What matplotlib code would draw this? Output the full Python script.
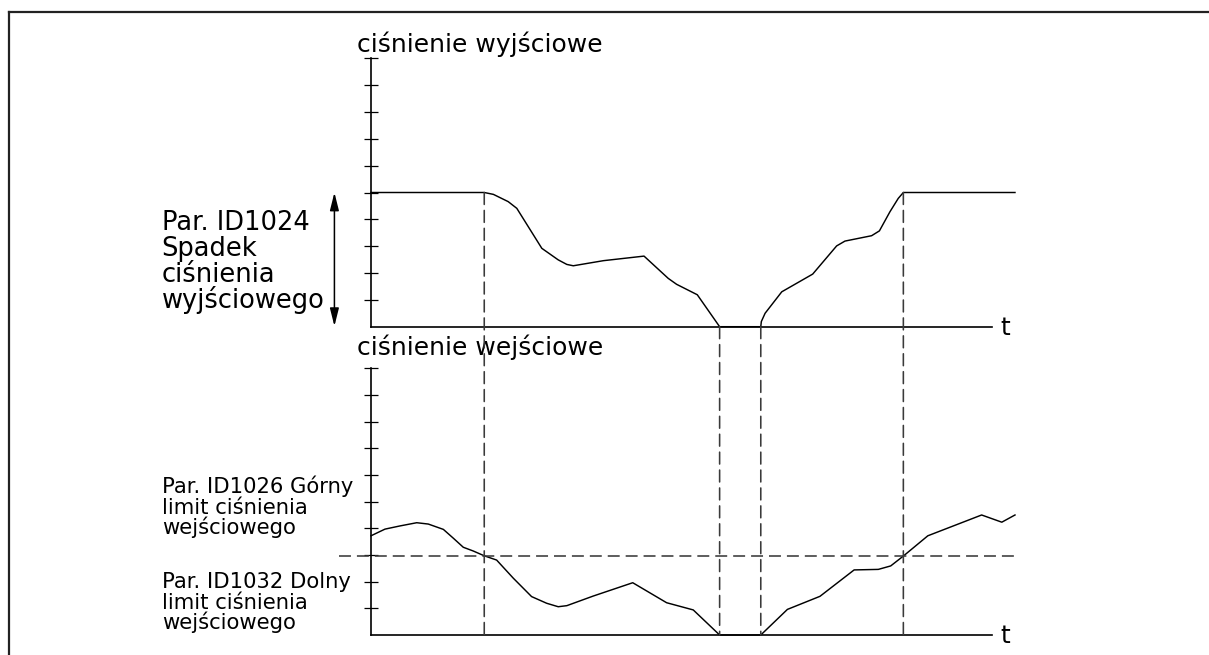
import matplotlib
matplotlib.use('Agg')
import matplotlib.pyplot as plt
from matplotlib.patches import ConnectionPatch
from matplotlib.lines import Line2D
from matplotlib.transforms import offset_copy

plt.rcParams['lines.scale_dashes'] = False
plt.rcParams['font.family'] = ['DejaVu Sans']

# --- data (time in arbitrary units, pressure in tick units) ---
out_t = [0, 4.21, 4.55, 5.10, 5.42, 6.35, 6.96, 7.28, 7.52, 8.64, 10.15, 11.05,
         11.36, 12.13, 12.96, 14.49, 14.51, 14.65, 15.27, 16.42, 17.31, 17.62,
         18.61, 18.90, 19.29, 19.60, 19.79, 23.94]
out_p = [5.0, 5.0, 4.93, 4.66, 4.41, 2.92, 2.49, 2.32, 2.27, 2.46, 2.63, 1.80,
         1.58, 1.19, 0, 0, 0.19, 0.50, 1.30, 1.96, 3.01, 3.19,
         3.39, 3.57, 4.28, 4.78, 5.0, 5.0]

in_t = [0, 0.52, 1.08, 1.70, 2.13, 2.69, 3.06, 3.43, 3.80, 4.21, 4.67, 5.29,
        5.97, 6.53, 6.96, 7.28, 8.26, 9.73, 10.99, 11.98, 12.96, 14.49, 15.48,
        16.69, 17.96, 18.86, 19.32, 19.79, 20.70, 22.70, 23.45, 23.94]
in_p = [3.72, 3.97, 4.09, 4.21, 4.16, 3.96, 3.63, 3.29, 3.15, 2.97, 2.81, 2.13,
        1.44, 1.19, 1.06, 1.10, 1.46, 1.96, 1.21, 0.94, 0, 0, 0.96,
        1.45, 2.44, 2.46, 2.59, 2.96, 3.72, 4.50, 4.23, 4.50]

set_level = 5.0          # flat output pressure level
limit_level = 2.95       # input pressure limit
event_t = [4.21, 12.96, 14.49, 19.79]
event_from = [set_level, 0, 0, set_level]

t_axis_end = 23.07
limit_span = (-1.19, 23.94)

title_out = 'ciśnienie wyjściowe'
title_in = 'ciśnienie wejściowe'
label_drop = ['Par. ID1024', 'Spadek', 'ciśnienia', 'wyjściowego']
label_high = ['Par. ID1026 Górny', 'limit ciśnienia', 'wejściowego']
label_low = ['Par. ID1032 Dolny', 'limit ciśnienia', 'wejściowego']

# --- layout ---
W, H = 1209, 655
PX = 26.9     # pixels per time unit
XMAX = 24.6

fig = plt.figure(figsize=(W / 100, H / 100), dpi=100)
fig.patch.set_facecolor('white')


def make_axes(bottom_px, top_px):
    ax = fig.add_axes([371 / W, 1 - bottom_px / H, XMAX * PX / W,
                       (bottom_px - top_px) / H])
    ax.set_xlim(0, XMAX)
    ax.set_ylim(0, 10)
    ax.patch.set_visible(False)
    ax.spines['top'].set_visible(False)
    ax.spines['right'].set_visible(False)
    for s in ('left', 'bottom'):
        ax.spines[s].set_linewidth(1.2)
        ax.spines[s].set_color('black')
    ax.spines['left'].set_bounds(0, 10)
    ax.spines['bottom'].set_bounds(0, t_axis_end)
    ax.set_xticks([])
    ax.set_yticks(range(1, 11))
    ax.set_yticklabels([])
    ax.tick_params(axis='y', direction='inout', length=10, width=0.9)
    ax.text(23.38, -0.31, 't', fontsize=18, va='baseline', ha='left')
    return ax


def text_block(ax, x, y, lines, size, step_pt):
    # one text per line, baselines step_pt apart
    for i, line in enumerate(lines):
        tr = offset_copy(ax.transData, fig=fig, y=-i * step_pt, units='points')
        ax.text(x, y, line, fontsize=size, va='baseline', ha='left',
                transform=tr, clip_on=False)


ax_top = make_axes(326.7, 58.3)
ax_bot = make_axes(635.0, 368.3)

ax_top.plot(out_t, out_p, color='black', lw=1.05, clip_on=False)
ax_bot.plot(in_t, in_p, color='black', lw=1.05, clip_on=False)

dash = (0, (8.6, 4.3))
ax_bot.plot(limit_span, [limit_level, limit_level], color='#3a3a3a', lw=1.15,
            linestyle=dash, clip_on=False)

for t, y0 in zip(event_t, event_from):
    con = ConnectionPatch(xyA=(t, y0), coordsA=ax_top.transData,
                          xyB=(t, 0), coordsB=ax_bot.transData,
                          color='#3a3a3a', lw=1.15, linestyle=dash)
    fig.add_artist(con)

# titles
ax_top.text(-0.52, 10.23, title_out, fontsize=18, va='baseline', ha='left')
ax_bot.text(-0.52, 10.49, title_in, fontsize=18, va='baseline', ha='left')

# side labels
text_block(ax_top, -7.78, 3.60, label_drop, 18.5, 18.7)
text_block(ax_bot, -7.78, 5.31, label_high, 15.2, 14.8)
text_block(ax_bot, -7.78, 1.76, label_low, 15.2, 14.8)

# double arrow for the pressure drop
ax_top.annotate('', xy=(-1.36, 0.02), xytext=(-1.36, set_level),
                arrowprops=dict(arrowstyle='<|-|>,head_length=0.6,head_width=0.15',
                                color='black', lw=1.1, shrinkA=0, shrinkB=0,
                                mutation_scale=18),
                annotation_clip=False)

# outer frame (only top and left edges visible)
fig.add_artist(Line2D([9 / W, 9 / W], [1 - 12 / H, 0], transform=fig.transFigure,
                      color='#222222', lw=1.6))
fig.add_artist(Line2D([9 / W, 1], [1 - 12 / H, 1 - 12 / H], transform=fig.transFigure,
                      color='#222222', lw=1.6))

fig.savefig('out.png', dpi=100, facecolor='white')
